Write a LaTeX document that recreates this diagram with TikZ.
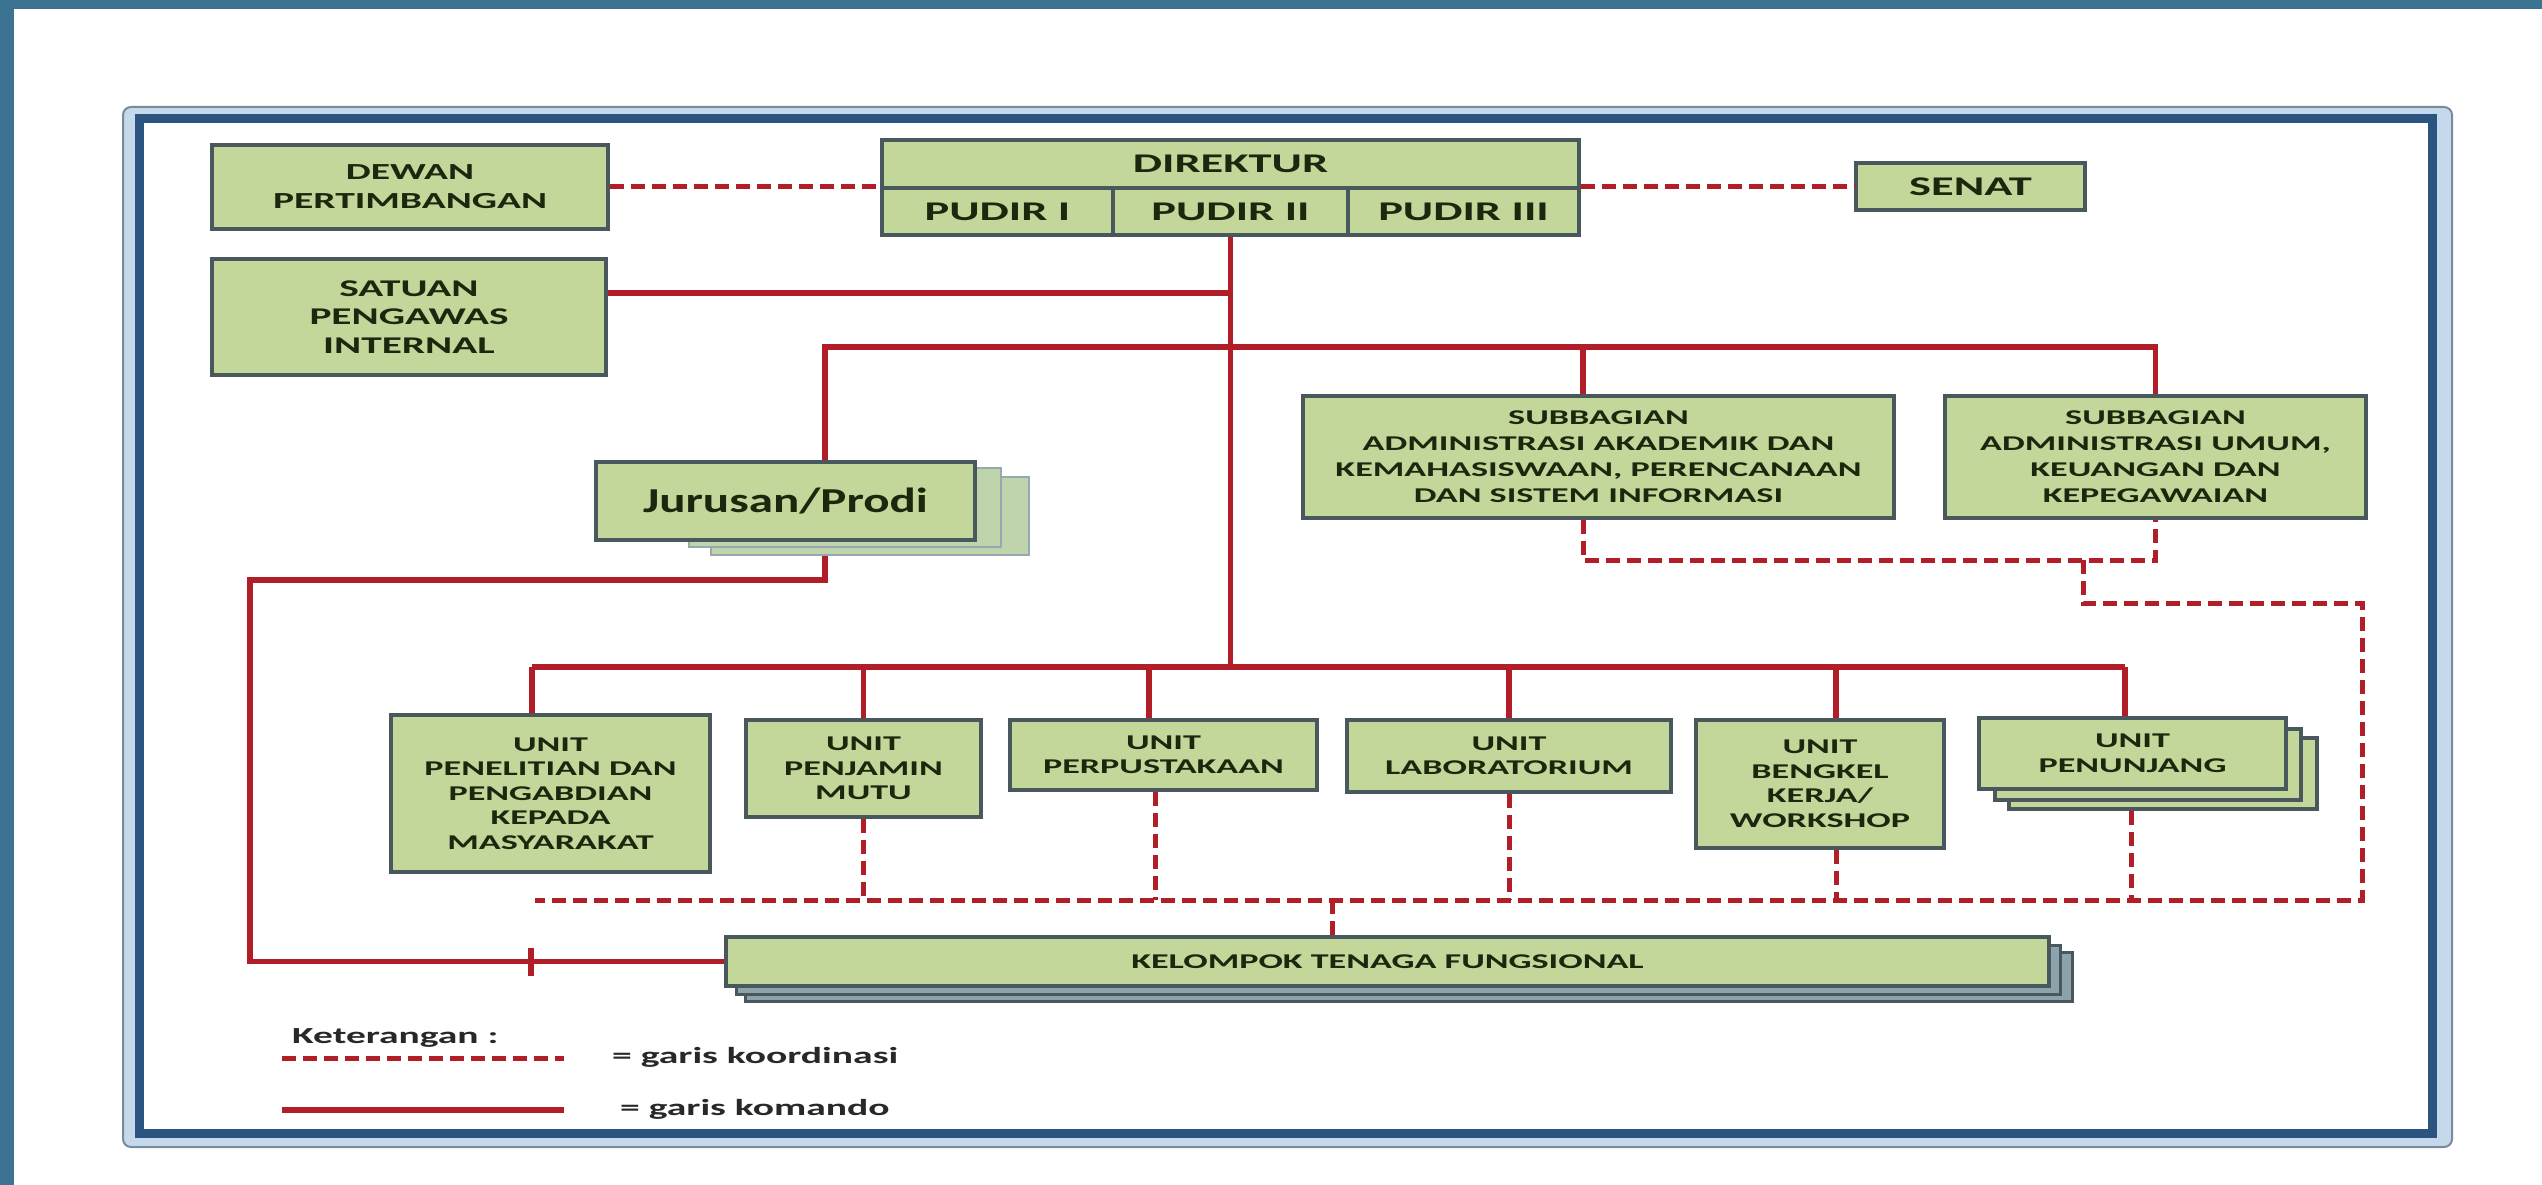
\documentclass[tikz,border=0pt]{standalone}
\usepackage{fontspec}
\setmainfont{Carlito}[FakeStretch=1.72]
\newfontfamily\jurfont{Carlito}[FakeStretch=1.4]
\definecolor{bgblue}{RGB}{60,115,147}
\definecolor{framedark}{RGB}{44,84,128}
\definecolor{framelight}{RGB}{198,217,236}
\definecolor{frameout}{RGB}{122,138,154}
\definecolor{boxfill}{RGB}{196,215,155}
\definecolor{boxline}{RGB}{72,88,92}
\definecolor{shfill}{RGB}{192,212,172}
\definecolor{shline}{RGB}{150,168,176}
\definecolor{kelsh}{RGB}{140,163,172}
\definecolor{txt}{RGB}{28,40,14}
\definecolor{redline}{RGB}{178,30,40}
\definecolor{legtxt}{RGB}{40,40,40}
\begin{document}
\begin{tikzpicture}[x=1pt,y=-1pt,
  box/.style={draw=boxline, fill=boxfill, line width=3.5pt, inner sep=0pt, align=center, text=txt,
    font=\bfseries\fontsize{21}{24.5}\selectfont},
  jshadow/.style={draw=shline, fill=shfill, line width=2.5pt, inner sep=0pt},
  kshadow/.style={draw=boxline, fill=kelsh, line width=3pt, inner sep=0pt},
  cmd/.style={draw=redline, line width=5.5pt},
  crd/.style={draw=redline, line width=5pt, dash pattern=on 14pt off 7pt},
  legend/.style={anchor=west, inner sep=0pt, text=legtxt, font=\bfseries\fontsize{23}{27}\selectfont}]
\useasboundingbox (0,0) rectangle (2542,1185);
% page background strips
\fill[white] (0,0) rectangle (2542,1185);
\fill[bgblue] (0,0) rectangle (14,1185);
\fill[bgblue] (0,0) rectangle (2542,9);
% frame
\draw[draw=frameout, line width=2pt, fill=framelight, rounded corners=8pt] (123,107) rectangle (2452,1147);
\draw[draw=framedark, line width=9pt, fill=white] (139,119) rectangle (2432,1133);

% top row
\node[box, minimum width=396pt, minimum height=84pt, font=\bfseries\fontsize{23}{29}\selectfont] (dewan) at (410,187) {DEWAN\\PERTIMBANGAN};
\node[box, minimum width=394pt, minimum height=116pt, font=\bfseries\fontsize{24}{28.5}\selectfont] (satuan) at (409,317) {SATUAN\\PENGAWAS\\INTERNAL};
\node[box, minimum width=697pt, minimum height=48pt, font=\bfseries\fontsize{27}{30}\selectfont] (dir) at (1230.5,164) {DIREKTUR};
\node[box, minimum width=231pt, minimum height=47pt, font=\bfseries\fontsize{27}{30}\selectfont] (pud1) at (997.5,211.5) {PUDIR I};
\node[box, minimum width=235pt, minimum height=47pt, font=\bfseries\fontsize{27}{30}\selectfont] (pud2) at (1230.5,211.5) {PUDIR II};
\node[box, minimum width=231pt, minimum height=47pt, font=\bfseries\fontsize{27}{30}\selectfont] (pud3) at (1463.5,211.5) {PUDIR III};
\node[box, minimum width=229pt, minimum height=47pt, font=\bfseries\fontsize{27}{30}\selectfont] (senat) at (1970.5,186.5) {SENAT};

% jurusan stack
\node[jshadow, minimum width=318pt, minimum height=78pt] (jurB) at (870,516) {};
\node[jshadow, minimum width=312pt, minimum height=79pt] (jurA) at (845,507.5) {};
\node[box, minimum width=379pt, minimum height=78pt, font=\jurfont\bfseries\fontsize{35}{40}\selectfont] (jur) at (785.5,501) {Jurusan/Prodi};

% subbagian
\node[box, minimum width=591pt, minimum height=122pt, font=\bfseries\fontsize{21}{26}\selectfont] (sub1) at (1598.5,457) {SUBBAGIAN\\ADMINISTRASI AKADEMIK DAN\\KEMAHASISWAAN, PERENCANAAN\\DAN SISTEM INFORMASI};
\node[box, minimum width=421pt, minimum height=122pt, font=\bfseries\fontsize{21}{26}\selectfont] (sub2) at (2155.5,457) {SUBBAGIAN\\ADMINISTRASI UMUM,\\KEUANGAN DAN\\KEPEGAWAIAN};

% units
\node[box, minimum width=319pt, minimum height=157pt] (pen) at (550.5,793.5) {UNIT\\PENELITIAN DAN\\PENGABDIAN\\KEPADA\\MASYARAKAT};
\node[box, minimum width=235pt, minimum height=97pt] (pjm) at (863.5,768.5) {UNIT\\PENJAMIN\\MUTU};
\node[box, minimum width=307pt, minimum height=70pt] (per) at (1163.5,755) {UNIT\\PERPUSTAKAAN};
\node[box, minimum width=324pt, minimum height=72pt] (lab) at (1509,756) {UNIT\\LABORATORIUM};
\node[box, minimum width=248pt, minimum height=128pt] (bkl) at (1820,784) {UNIT\\BENGKEL\\KERJA/\\WORKSHOP};
\node[box, minimum width=308pt, minimum height=71pt] (punB) at (2163,773.5) {};
\node[box, minimum width=306pt, minimum height=71pt] (punA) at (2148,764.5) {};
\node[box, minimum width=307pt, minimum height=71pt] (pun) at (2132.5,753.5) {UNIT\\PENUNJANG};

% kelompok
\node[kshadow, minimum width=1327pt, minimum height=49pt] (kelB) at (1408.5,976.5) {};
\node[kshadow, minimum width=1324pt, minimum height=49pt] (kelA) at (1398,969.5) {};
\node[box, minimum width=1323pt, minimum height=49pt] (kel) at (1387.5,961.5) {KELOMPOK TENAGA FUNGSIONAL};

% junction coordinates
\coordinate (jSat) at (1230.5,293);
\coordinate (hJ) at (825,347);
\coordinate (bS1) at (1583,347);
\coordinate (jb1) at (825,580);
\coordinate (jb2) at (250,580);
\coordinate (tick) at (531,961.5);
\coordinate (bPen) at (532,667);
\coordinate (bPer) at (1149,667);
\coordinate (bBkl) at (1836,667);
\coordinate (bPun) at (2125,667);
\coordinate (c1) at (1583,560);
\coordinate (c3) at (2083,560);
\coordinate (c4) at (2083,603);
\coordinate (c5) at (2362,603);
\coordinate (c6) at (2362,900);
\coordinate (c7) at (535,900);
\coordinate (dPer) at (1155,900);
\coordinate (dBkl) at (1836,900);
\coordinate (dPun) at (2131,900);
\coordinate (k1) at (1332,900);

% coordination lines (top)
\draw[crd] (dewan.east) -- (dewan.east -| dir.west);
\draw[crd] (dir.east |- senat.west) -- (senat.west);

% command lines
\draw[cmd] (pud2.south) -- (pud2.south |- bPen);
\draw[cmd] (satuan.east |- jSat) -- (jSat);
\draw[cmd] (jur.north -| hJ) -- (hJ) -- (hJ -| sub2.north) -- (sub2.north);
\draw[cmd] (bS1) -- (bS1 |- sub1.north);
\draw[cmd] (jurB.south -| jb1) -- (jb1) -- (jb2) |- (kel.west);
\draw[cmd] (tick) ++(0,-14) -- ++(0,28);
\draw[cmd] (bPen) -- (bPun);
\draw[cmd] (bPen) -- (bPen |- pen.north);
\draw[cmd] (pjm.north |- bPen) -- (pjm.north);
\draw[cmd] (bPer) -- (bPer |- per.north);
\draw[cmd] (lab.north |- bPen) -- (lab.north);
\draw[cmd] (bBkl) -- (bBkl |- bkl.north);
\draw[cmd] (bPun) -- (bPun |- pun.north);

% coordination lines (lower)
\draw[crd] (c1 |- sub1.south) -- (c1) -- (c1 -| sub2.south) -- (sub2.south);
\draw[crd] (c3) -- (c4) -- (c5) -- (c6) -- (c7);
\draw[crd] (pjm.south) -- (pjm.south |- c7);
\draw[crd] (dPer |- per.south) -- (dPer);
\draw[crd] (lab.south) -- (lab.south |- c7);
\draw[crd] (dBkl |- bkl.south) -- (dBkl);
\draw[crd] (dPun |- punB.south) -- (dPun);
\draw[crd] (k1) -- (k1 |- kel.north);

% legend
\node[legend] (ket) at (292,1038) {Keterangan :};
\coordinate (ld1) at (282,1058);
\coordinate (ld2) at (564,1058);
\draw[crd] (ld1) -- (ld2);
\node[legend] (lk) at (612,1057) {= garis koordinasi};
\coordinate (ls1) at (282,1110);
\coordinate (ls2) at (564,1110);
\draw[cmd] (ls1) -- (ls2);
\node[legend] (lko) at (620,1109) {= garis komando};
\end{tikzpicture}
\end{document}
